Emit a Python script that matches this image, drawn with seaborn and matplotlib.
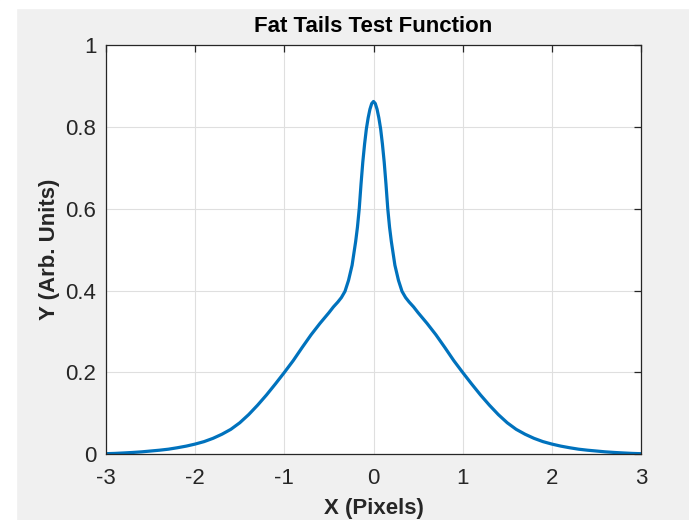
import matplotlib
matplotlib.use('Agg')
import matplotlib.pyplot as plt
from matplotlib.patches import Rectangle
import seaborn as sns
import pandas as pd

# values
xVals = [-3.0, -2.9, -2.8, -2.7, -2.6, -2.5, -2.4, -2.3, -2.2, -2.1, -2.0, -1.9, -1.8, -1.7, -1.6,
         -1.5, -1.4, -1.3, -1.2, -1.1, -1.0, -0.9, -0.8, -0.7, -0.6, -0.5, -0.45, -0.4, -0.36, -0.32,
         -0.28, -0.24, -0.2, -0.18, -0.16, -0.14, -0.12, -0.1, -0.08, -0.06, -0.04, -0.02, 0.0,
         0.02, 0.04, 0.06, 0.08, 0.1, 0.12, 0.14, 0.16, 0.18, 0.2, 0.24, 0.28, 0.32, 0.36, 0.4,
         0.45, 0.5, 0.6, 0.7, 0.8, 0.9, 1.0, 1.1, 1.2, 1.3, 1.4, 1.5, 1.6, 1.7, 1.8, 1.9, 2.0,
         2.1, 2.2, 2.3, 2.4, 2.5, 2.6, 2.7, 2.8, 2.9, 3.0]
yVals = [0.0015, 0.0022, 0.0033, 0.0045, 0.006, 0.008, 0.010, 0.0125, 0.016, 0.020, 0.025, 0.031,
         0.039, 0.049, 0.061, 0.077, 0.097, 0.120, 0.145, 0.172, 0.200, 0.229, 0.261, 0.292, 0.320,
         0.346, 0.360, 0.372, 0.383, 0.398, 0.425, 0.462, 0.520, 0.555, 0.600, 0.660, 0.714, 0.758,
         0.795, 0.822, 0.843, 0.857, 0.862,
         0.857, 0.843, 0.822, 0.795, 0.758, 0.714, 0.660, 0.600, 0.555, 0.520, 0.462, 0.425, 0.398,
         0.383, 0.372, 0.360, 0.346, 0.320, 0.292, 0.261, 0.229, 0.200, 0.172, 0.145, 0.120, 0.097,
         0.077, 0.061, 0.049, 0.039, 0.031, 0.025, 0.020, 0.016, 0.0125, 0.010, 0.008, 0.006,
         0.0045, 0.0033, 0.0022, 0.0015]

xTicks = [-3, -2, -1, 0, 1, 2, 3]
yTicks = [0, 0.2, 0.4, 0.6, 0.8, 1]
yTickLabels = ['0', '0.2', '0.4', '0.6', '0.8', '1']

titleText = 'Fat Tails Test Function'
xLabelText = 'X (Pixels)'
yLabelText = 'Y (Arb. Units)'

curveDF = pd.DataFrame({'x': xVals, 'y': yVals})

sns.set_theme(style='whitegrid')
plt.rcParams['font.family'] = ['Liberation Sans', 'DejaVu Sans']

fig = plt.figure(figsize=(6.89, 5.2), dpi=100, facecolor='#F0F0F0')
#white strips from the screenshot edges
fig.add_artist(Rectangle((0, 0), 16 / 689, 1, transform=fig.transFigure, color='white', zorder=0))
fig.add_artist(Rectangle((0, 1 - 8 / 520), 1, 8 / 520, transform=fig.transFigure, color='white', zorder=0))

ax = fig.add_axes([106 / 689, (520 - 454.3) / 520, 535 / 689, 409.3 / 520])
ax.set_facecolor('white')

sns.lineplot(data=curveDF, x='x', y='y', ax=ax, color='#0072BD', linewidth=2.3,
             estimator=None, sort=False)

ax.set_xlim(-3, 3)
ax.set_ylim(0, 1)
ax.set_xticks(xTicks)
ax.set_xticklabels([str(t) for t in xTicks])
ax.set_yticks(yTicks)
ax.set_yticklabels(yTickLabels)

ax.grid(True, color='#DFDFDF', linewidth=0.8)
for side in ['left', 'right', 'top', 'bottom']:
    ax.spines[side].set_visible(True)
    ax.spines[side].set_color('#262626')
    ax.spines[side].set_linewidth(0.9)

ax.tick_params(axis='both', direction='in', length=5, width=0.9, color='#262626',
               labelsize=16, labelcolor='#262626', top=True, right=True)
ax.tick_params(axis='x', pad=10)
ax.tick_params(axis='y', pad=7)

ax.set_title(titleText, fontsize=16, fontweight='bold', color='black', pad=9)
ax.set_xlabel(xLabelText, fontsize=16, fontweight='bold', color='#262626', labelpad=6)
ax.set_ylabel(yLabelText, fontsize=16, fontweight='bold', color='#262626', labelpad=4)

plt.savefig('out.png', dpi=100, facecolor=fig.get_facecolor())
plt.close()
